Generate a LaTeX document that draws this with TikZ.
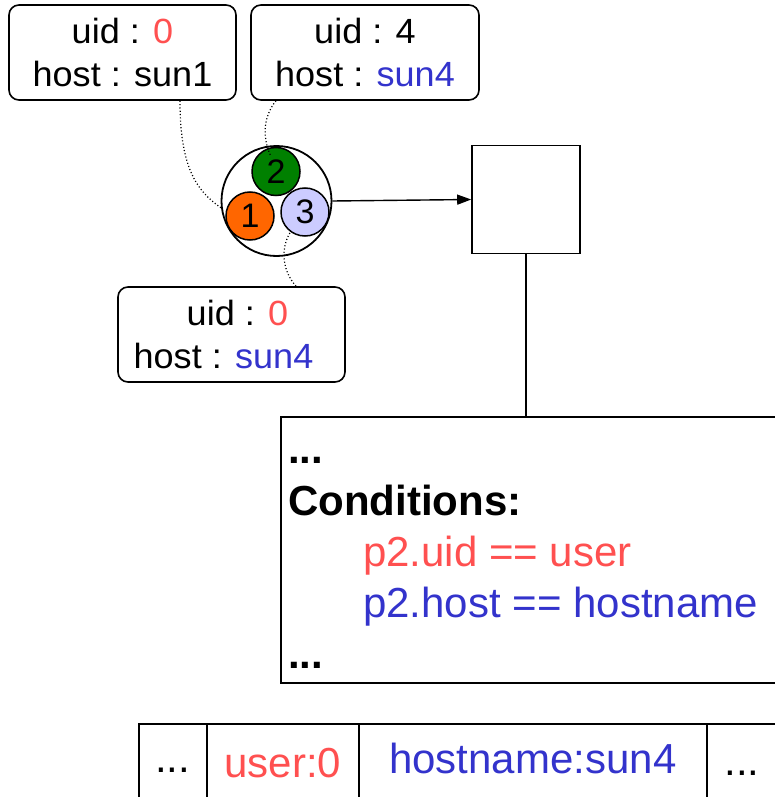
\documentclass[tikz,border=0pt]{standalone}
\usepackage{fontspec}
\setmainfont{Liberation Sans}
\newfontfamily\widefont{Liberation Sans}[FakeStretch=1.03]
\usetikzlibrary{arrows.meta,calc}
\definecolor{redt}{RGB}{255,80,80}
\definecolor{bluet}{RGB}{51,51,204}
\definecolor{greenc}{RGB}{0,128,0}
\definecolor{orangec}{RGB}{255,102,0}
\definecolor{lavc}{RGB}{204,204,255}
\begin{document}
\begin{tikzpicture}[x=1pt,y=-1pt,
  lbl/.style={draw, rounded corners=10pt, line width=1.6pt, minimum height=95pt,
    align=center, inner sep=0pt, font=\widefont\fontsize{35}{43.5}\selectfont},
  ball/.style={circle, draw, line width=1.5pt, minimum size=48pt, inner sep=0pt,
    font=\fontsize{34}{34}\selectfont},
  dotline/.style={line width=1.2pt, dash pattern=on 1.1pt off 2.2pt},
  cell/.style={draw, line width=1.6pt, minimum height=100pt, anchor=north west, inner sep=0pt},
  condtxt/.style={anchor=base west, inner sep=0pt, font=\fontsize{42}{50}\selectfont},
  tbltxt/.style={anchor=base, inner sep=0pt, font=\fontsize{42}{50}\selectfont}]
\clip (0,0) rectangle (775,797);

% label boxes
\node[lbl, minimum width=227pt] (labA) at (122.5,52.5) {uid : \textcolor{redt}{0}\\host : sun1};
\node[lbl, minimum width=228pt] (labB) at (365,52.5) {uid : 4\\host : \textcolor{bluet}{sun4}};
\node[lbl, minimum width=227pt] (labC) at (231.5,334.5) {\hspace*{12pt}uid : \textcolor{redt}{0}\\host : \textcolor{bluet}{sun4}\hspace*{16pt}};

% circles
\node[circle, draw, line width=1.8pt, minimum size=110pt, inner sep=0pt] (big) at (276.5,201) {};
\node[ball, fill=greenc] (c2) at (276,171.5) {2};
\node[ball, fill=orangec] (c1) at (250,216) {1};
\node[ball, fill=lavc] (c3) at (305,212) {3};

% square and conditions box
\node[draw, line width=1.6pt, minimum size=108pt, inner sep=0pt] (sq) at (526,199.5) {};
\node[draw, line width=1.4pt, minimum width=530pt, minimum height=266pt, inner sep=0pt] (cond) at (546,550) {};

\draw[line width=1.4pt, -{Triangle[length=14pt,width=10pt]}] (big.east) -- (sq.west);
\draw[line width=1.2pt] (sq.south) -- (sq.south |- cond.north);

% dotted connectors
\draw[dotline] ([xshift=57.5pt]labA.south) .. controls (180,165) and (195,190) .. (big.187);
\draw[dotline] ([xshift=-89pt]labB.south) .. controls (262,118) and (263,140) .. ($(c2.center)+(-5,-15)$);
\draw[dotline] ([xshift=64.5pt]labC.north) .. controls (280,268) and (282,245) .. (c3.234);

% conditions text
\node[condtxt, font=\bfseries\fontsize{42}{50}\selectfont] (d1) at (288,463) {...};
\node[condtxt, font=\bfseries\fontsize{42}{50}\selectfont] (ct) at (288,515) {Conditions:};
\node[condtxt, text=redt] (p1) at (363,566) {p2.uid == user};
\node[condtxt, text=bluet] (p2) at (363,617) {p2.host == hostname};
\node[condtxt, font=\bfseries\fontsize{42}{50}\selectfont] (d2) at (288,668) {...};

% table
\node[cell, minimum width=68pt] (t1) at (138,723) {};
\node[cell, minimum width=152pt] (t2) at (206,723) {};
\node[cell, minimum width=348pt] (t3) at (358,723) {};
\node[cell, minimum width=100pt] (t4) at (706,723) {};
\node[tbltxt] (x1) at (t1.north |- 0,772) {...};
\node[tbltxt, text=redt] (x2) at (t2.north |- 0,777) {user:0};
\node[tbltxt, text=bluet] (x3) at (t3.north |- 0,773) {hostname:sun4};
\node[tbltxt] (x4) at (742,775) {...};
\end{tikzpicture}
\end{document}
